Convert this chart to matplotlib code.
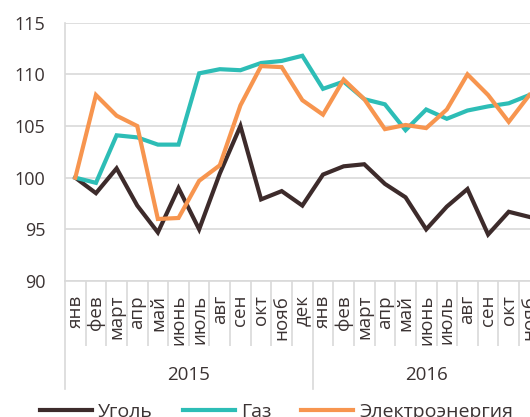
import matplotlib
matplotlib.use("Agg")
import matplotlib.pyplot as plt
import numpy as np

months = ["янв", "фев", "март", "апр", "май", "июнь", "июль", "авг", "сен", "окт", "нояб", "дек",
          "янв", "фев", "март", "апр", "май", "июнь", "июль", "авг", "сен", "окт", "нояб"]
years = ["2015", "2016"]
year_counts = [12, 11]

coal = [100.0, 98.5, 100.9, 97.3, 94.7, 99.0, 95.0, 100.4, 105.0, 97.9, 98.7, 97.3,
        100.3, 101.1, 101.3, 99.4, 98.1, 95.0, 97.2, 98.9, 94.5, 96.7, 96.2]
gas = [100.0, 99.5, 104.1, 103.9, 103.2, 103.2, 110.1, 110.5, 110.4, 111.1, 111.3, 111.8,
       108.6, 109.3, 107.6, 107.1, 104.6, 106.6, 105.7, 106.5, 106.9, 107.2, 108.0]
elec = [100.0, 108.0, 106.0, 105.0, 96.0, 96.1, 99.7, 101.2, 107.0, 110.8, 110.7, 107.5,
        106.1, 109.5, 107.6, 104.7, 105.1, 104.8, 106.6, 110.0, 108.0, 105.4, 108.0]
series_names = ["Уголь", "Газ", "Электроэнергия"]

colors = ["#3D2B2B", "#2DBDB6", "#F7954F"]
text_color = "#3B3333"
grid_color = "#D9D9D9"

plt.rcParams['font.family'] = ['Open Sans', 'DejaVu Sans']

fig = plt.figure(figsize=(5.3, 4.17), dpi=100)
ax = fig.add_axes([65/530, 1 - 281/417, (539.7 - 65)/530, (281 - 22.7)/417])

x = np.arange(len(months))
for vals, c, name in zip([coal, gas, elec], colors, series_names):
    ax.plot(x, vals, color=c, lw=3, label=name, solid_joinstyle='miter')

ax.set_xlim(-0.5, len(months) - 0.5)
ax.set_ylim(90, 115)
ax.set_yticks([90, 95, 100, 105, 110, 115])
ax.yaxis.grid(True, color=grid_color, lw=1.2)
ax.set_axisbelow(True)
for s in ["top", "right"]:
    ax.spines[s].set_visible(False)
for s in ["left", "bottom"]:
    ax.spines[s].set_color(grid_color)
    ax.spines[s].set_linewidth(1.2)

ax.tick_params(axis='y', length=0, pad=14, labelsize=13, labelcolor=text_color)
ax.set_xticks(x)
ax.set_xticklabels(months, rotation=90, va='top', ha='center')
ax.tick_params(axis='x', which='major', length=0, pad=10, labelsize=13.5, labelcolor=text_color)

bounds = np.cumsum([0] + year_counts) - 0.5
minor = [b for b in np.arange(-0.5, len(months), 1.0) if b not in bounds]
ax.set_xticks(minor, minor=True)
ax.tick_params(axis='x', which='minor', length=47, width=1.2, color=grid_color, direction='out')

trans = ax.get_xaxis_transform()
axh = 281 - 22.7
for b in bounds:
    ax.plot([b, b], [0, -(388.6 - 281)/axh], transform=trans, color=grid_color, lw=1.2, clip_on=False)

start = 0
for yr, n in zip(years, year_counts):
    ax.text(start + (n - 1)/2, -(375 - 281)/axh, yr, transform=trans, ha='center', va='center',
            fontsize=13.5, color=text_color)
    start += n

fig.legend(loc='center left', bbox_to_anchor=(40/530, 1 - 412/417), ncol=3, frameon=False,
           fontsize=14, handlelength=2.68, handletextpad=0.3, columnspacing=1.55,
           labelcolor=text_color, borderaxespad=0, borderpad=0)

fig.savefig("out.png", dpi=100)
